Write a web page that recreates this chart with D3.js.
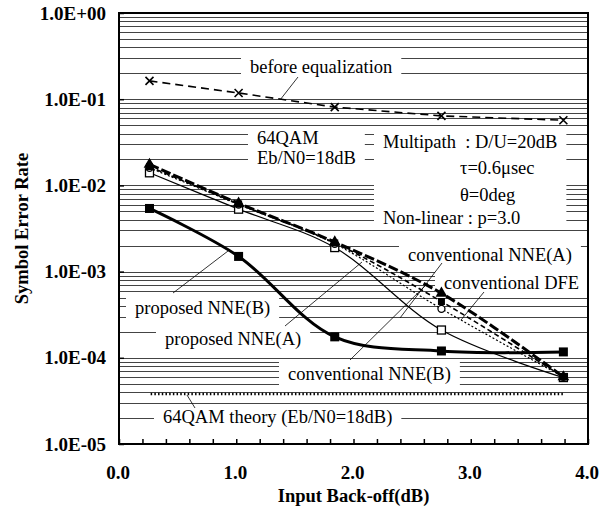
<!DOCTYPE html>
<html><head><meta charset="utf-8">
<script src="https://cdn.jsdelivr.net/npm/d3@7"></script>
<style>body{margin:0;background:#fff}svg{display:block}</style>
</head><body><svg id="c" width="611" height="516"></svg>
<script>
// ---- data ----
const backoff = [0.26, 1.02, 1.84, 2.75, 3.79];
const beforeEq      = [0.163, 0.118, 0.081, 0.064, 0.057];
const proposedB     = [5.4e-3, 1.5e-3, 1.75e-4, 1.2e-4, 1.17e-4];
const proposedA     = [1.4e-2, 5.3e-3, 1.9e-3, 2.1e-4, 5.9e-5];
const convA         = [1.75e-2, 6.2e-3, 2.2e-3, 5.6e-4, 6.0e-5];
const convDFE       = [1.6e-2, 6.0e-3, 2.1e-3, 3.7e-4, 6.0e-5];
const convB         = [1.65e-2, 6.1e-3, 2.15e-3, 4.5e-4, 6.0e-5];
const theoryX = [0.27, 3.79];
const theoryY = 3.8e-5;
const xTicks = [0, 1, 2, 3, 4];
const xTickLabels = ["0.0", "1.0", "2.0", "3.0", "4.0"];
const yTicks = [1, 1e-1, 1e-2, 1e-3, 1e-4, 1e-5];
const yTickLabels = ["1.0E+00", "1.0E-01", "1.0E-02", "1.0E-03", "1.0E-04", "1.0E-05"];

const svg = d3.select("#c");
const X0 = 119, X1 = 588, Y0 = 13, Y1 = 444;
const x = d3.scaleLinear().domain([0, 4]).range([X0, X1]);
const y = d3.scaleLog().domain([1e-5, 1]).range([Y1, Y0]);
const serif = "Liberation Serif, Times New Roman, serif";

// grid
const grid = [];
for (let d = -5; d <= -1; d++) for (let k = 1; k <= 9; k++) grid.push(k * Math.pow(10, d));
svg.append("g").selectAll("line").data(grid).join("line")
  .attr("x1", X0).attr("x2", X1)
  .attr("y1", d => Math.round(y(d)) + 0.5).attr("y2", d => Math.round(y(d)) + 0.5)
  .attr("stroke", "#444").attr("stroke-width", 1);

// annotations (pixel layout: start x, centre y, box group)
const annots = [
  {t: "before equalization", px: 250, py: 67, g: "be"},
  {t: "64QAM", px: 257, py: 138, g: "qam"},
  {t: "Eb/N0=18dB", px: 257, py: 158, g: "qam"},
  {t: "Multipath  : D/U=20dB", px: 383, py: 142, g: "mp"},
  {t: "τ=0.6μsec", px: 460, py: 168, g: "mp"},
  {t: "θ=0deg", px: 460, py: 195, g: "mp"},
  {t: "Non-linear : p=3.0", px: 383, py: 218, g: "mp"},
  {t: "conventional NNE(A)", px: 408, py: 255, g: "ca"},
  {t: "conventional DFE", px: 444, py: 283, g: "cd"},
  {t: "proposed NNE(B)", px: 135, py: 308, g: "pb"},
  {t: "proposed NNE(A)", px: 165, py: 339, g: "pa"},
  {t: "conventional NNE(B)", px: 288, py: 374, g: "cb"},
  {t: "64QAM theory (Eb/N0=18dB)", px: 163, py: 417, g: "th"}
];
const boxG = svg.append("g");
const textG = svg.append("g");
const txt = textG.selectAll("text").data(annots).join("text")
  .attr("x", d => d.px).attr("y", d => d.py)
  .attr("dominant-baseline", "central")
  .attr("font-family", serif)
  .attr("font-size", 18.5).style("white-space", "pre")
  .text(d => d.t);
const boxes = {};
txt.each(function(d) {
  const b = this.getBBox();
  const r = boxes[d.g] || {x0: 1e9, y0: 1e9, x1: -1e9, y1: -1e9};
  r.x0 = Math.min(r.x0, b.x); r.y0 = Math.min(r.y0, b.y);
  r.x1 = Math.max(r.x1, b.x + b.width); r.y1 = Math.max(r.y1, b.y + b.height);
  boxes[d.g] = r;
});
Object.values(boxes).forEach(r => {
  boxG.append("rect").attr("x", r.x0 - 9).attr("y", r.y0 - 2)
    .attr("width", r.x1 - r.x0 + 18).attr("height", r.y1 - r.y0 + 4).attr("fill", "#fff");
});

// leader lines (pixel layout)
const leaders = [
  [298, 77, 280, 100],
  [173, 293, 228, 251],
  [285, 326, 362, 262],
  [442, 263, 400, 318],
  [484, 292, 461, 320],
  [350, 360, 428, 283],
  [195, 408, 187, 395]
];
svg.append("g").selectAll("line").data(leaders).join("line")
  .attr("x1", d => d[0]).attr("y1", d => d[1]).attr("x2", d => d[2]).attr("y2", d => d[3])
  .attr("stroke", "#000").attr("stroke-width", 0.8);

// series
const line = d3.line().x(d => x(d[0])).y(d => y(d[1])).curve(d3.curveCatmullRom.alpha(0.5));
const straight = d3.line().x(d => x(d[0])).y(d => y(d[1]));
const series = [
  {v: beforeEq, w: 1.6, dash: "8,5", gen: straight},
  {v: convDFE, w: 1.2, dash: "2,2", gen: line},
  {v: convB, w: 1.6, dash: "5,3", gen: line},
  {v: convA, w: 3, dash: "10,3", gen: line},
  {v: proposedA, w: 1.2, dash: null, gen: line},
  {v: proposedB, w: 3, dash: null, gen: line}
];
const sg = svg.append("g");
series.forEach(s => {
  const pts = backoff.map((b, i) => [b, s.v[i]]);
  sg.append("path").attr("d", s.gen(pts)).attr("fill", "none")
    .attr("stroke", "#000").attr("stroke-width", s.w)
    .attr("stroke-dasharray", s.dash);
});
// theory
svg.append("line").attr("x1", x(theoryX[0])).attr("x2", x(theoryX[1]))
  .attr("y1", y(theoryY)).attr("y2", y(theoryY))
  .attr("stroke", "#000").attr("stroke-width", 2.5).attr("stroke-dasharray", "1.5,2.2");

// markers (drawing order)
const markerSets = [
  {v: beforeEq, sym: "x"},
  {v: proposedA, sym: "sqOpen"},
  {v: convDFE, sym: "circle"},
  {v: convB, sym: "sqSmall"},
  {v: convA, sym: "tri"},
  {v: proposedB, sym: "sq"}
];
markerSets.forEach(s => {
  const g = svg.append("g");
  backoff.forEach((b, i) => {
    const cx = x(b), cy = y(s.v[i]);
    if (s.sym === "x") {
      g.append("path").attr("d", `M${cx-4},${cy-4}L${cx+4},${cy+4}M${cx-4},${cy+4}L${cx+4},${cy-4}`)
        .attr("stroke", "#000").attr("stroke-width", 1.6);
    } else if (s.sym === "circle") {
      g.append("circle").attr("cx", cx).attr("cy", cy).attr("r", 3.5)
        .attr("fill", "#fff").attr("stroke", "#000").attr("stroke-width", 1.3);
    } else if (s.sym === "tri") {
      g.append("path").attr("transform", `translate(${cx},${cy})`)
        .attr("d", d3.symbol(d3.symbolTriangle, 60)()).attr("fill", "#000");
    } else if (s.sym === "sqOpen") {
      g.append("rect").attr("x", cx - 4).attr("y", cy - 4).attr("width", 8).attr("height", 8)
        .attr("fill", "#fff").attr("stroke", "#000").attr("stroke-width", 1.3);
    } else if (s.sym === "sqSmall") {
      g.append("rect").attr("x", cx - 3.5).attr("y", cy - 3.5).attr("width", 7).attr("height", 7)
        .attr("fill", "#000");
    } else if (s.sym === "sq") {
      g.append("rect").attr("x", cx - 4.5).attr("y", cy - 4.5).attr("width", 9).attr("height", 9)
        .attr("fill", "#000");
    }
  });
});

// frame and axes
svg.append("rect").attr("x", X0).attr("y", Y0).attr("width", X1 - X0).attr("height", Y1 - Y0)
  .attr("fill", "none").attr("stroke", "#000").attr("stroke-width", 2);
const xAxis = d3.axisBottom(x).tickValues(d3.range(0, 4.01, 0.2)).tickSize(-5).tickFormat("");
svg.append("g").attr("transform", `translate(0,${Y1})`).call(xAxis)
  .call(g => g.select(".domain").remove())
  .selectAll("line").attr("stroke-width", 1.5);
const yAxis = d3.axisLeft(y).tickValues(yTicks).tickSize(-5).tickFormat("");
svg.append("g").attr("transform", `translate(${X0},0)`).call(yAxis)
  .call(g => g.select(".domain").remove())
  .selectAll("line").attr("stroke-width", 1.5);

svg.append("g").selectAll("text").data(xTicks).join("text")
  .attr("x", d => x(d) - 1).attr("y", 472).attr("dominant-baseline", "central")
  .attr("text-anchor", "middle").attr("font-family", serif).attr("font-weight", "bold")
  .attr("font-size", 19).text((d, i) => xTickLabels[i]);
svg.append("g").selectAll("text").data(yTicks).join("text")
  .attr("x", 106).attr("y", d => y(d)).attr("dominant-baseline", "central")
  .attr("text-anchor", "end").attr("font-family", serif).attr("font-weight", "bold")
  .attr("font-size", 19).text((d, i) => yTickLabels[i]);
svg.append("text").attr("x", (X0 + X1) / 2).attr("y", 502).attr("text-anchor", "middle")
  .attr("font-family", serif).attr("font-weight", "bold").attr("font-size", 18.5)
  .text("Input Back-off(dB)");
svg.append("text").attr("transform", `translate(28,${(Y0 + Y1) / 2}) rotate(-90)`)
  .attr("text-anchor", "middle").attr("font-family", serif).attr("font-weight", "bold")
  .attr("font-size", 18.5).text("Symbol Error Rate");
</script></body></html>
